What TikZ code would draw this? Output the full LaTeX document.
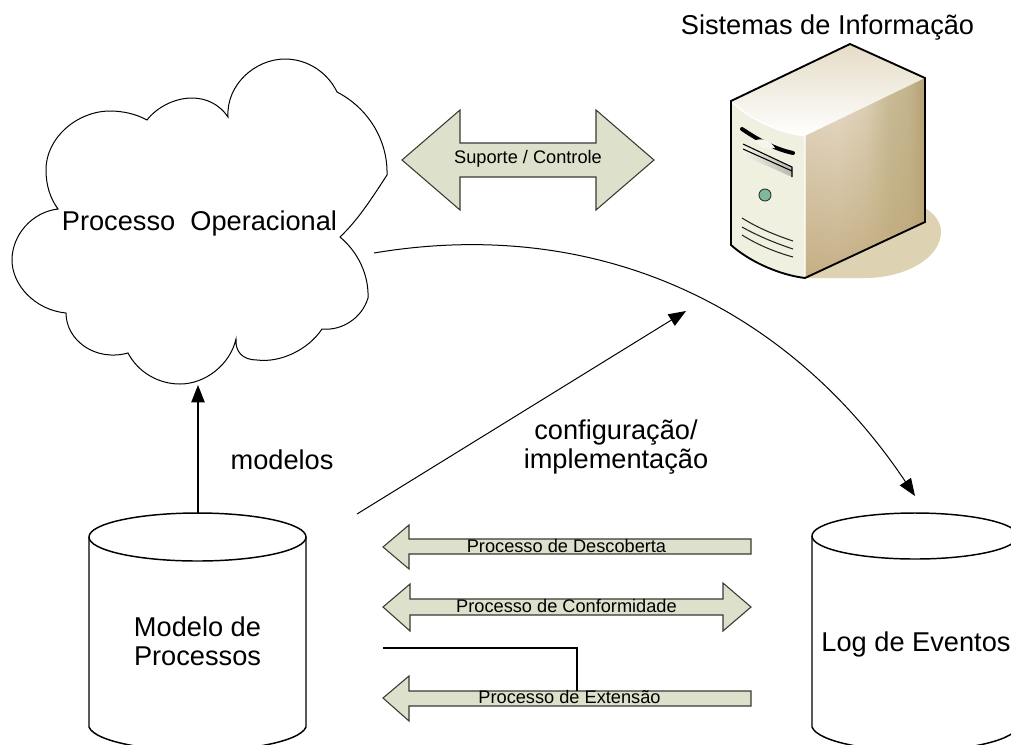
\documentclass[tikz,border=0pt]{standalone}
\usepackage{fontspec}
\setmainfont{Liberation Sans}
\usetikzlibrary{arrows.meta,fadings}
\definecolor{arrowfill}{HTML}{DDE0CA}
\definecolor{arrowedge}{HTML}{3A3A34}
\definecolor{srvshadow}{HTML}{DDD3B3}
\definecolor{srvtan}{HTML}{BFA878}
\definecolor{sa}{HTML}{E6DAC8}
\definecolor{sb}{HTML}{E9DDCD}
\definecolor{sc}{HTML}{DFD3BB}
\definecolor{sd}{HTML}{C9BC98}
\definecolor{se}{HTML}{C4B58F}
\definecolor{sf}{HTML}{B5A074}
\definecolor{srvtop}{HTML}{E5DCC6}
\definecolor{srvfront}{HTML}{EFF0E0}
\definecolor{srvlens}{HTML}{F6F6EC}
\definecolor{trayl}{HTML}{F2F2E8}
\definecolor{trayr}{HTML}{B8B8B0}
\definecolor{srvbtn}{HTML}{7DBA9D}
\pgfdeclarehorizontalshading{srvside}{100bp}{
 color(0bp)=(sa); color(25bp)=(sa); color(38bp)=(sb); color(50bp)=(sc); color(60bp)=(sd); color(68bp)=(se); color(75bp)=(sf); color(100bp)=(sf)}
\tikzfading[name=sidefade,top color=transparent!100,middle color=transparent!100,bottom color=transparent!15]
\tikzset{
  biglabel/.style={font=\fontsize{20.4}{21.5}\selectfont,align=center,inner sep=0pt},
  smalllabel/.style={font=\fontsize{13.65}{15}\selectfont,inner sep=0pt},
  blockarrow/.style={draw=arrowedge,fill=arrowfill,line width=0.8pt,line join=miter},
  cyl/.style={draw=black,line width=1.1pt,fill=white},
  thin connector/.style={draw=black,line width=0.75pt,-{Triangle[length=13pt,width=10pt]}},
  srvline/.style={draw=black!85,line width=0.8pt},
}
\begin{document}
\begin{tikzpicture}[x=0.75pt,y=-0.75pt]
\useasboundingbox (0,0) rectangle (1011,744);
\fill[white] (0,0) rectangle (1011,744);

% ---- cloud
\draw[black,line width=0.75pt,fill=white,line join=miter]
 (228,117) .. controls (226,85) and (255,59) .. (285,59)
 .. controls (308,59) and (328,73) .. (337,92)
 .. controls (368,108) and (388,140) .. (387,175)
 .. controls (372,198) and (358,220) .. (340,237)
 .. controls (358,252) and (369,275) .. (368,298)
 .. controls (362,318) and (342,331) .. (322,329)
 .. controls (308,350) and (280,363) .. (257,360)
 .. controls (243,360) and (235,352) .. (236,339)
 .. controls (230,365) and (205,384) .. (180,384)
 .. controls (158,384) and (138,372) .. (128,353)
 .. controls (95,362) and (66,340) .. (66,313)
 .. controls (35,310) and (12,285) .. (12,260)
 .. controls (12,235) and (32,212) .. (58,209)
 .. controls (50,198) and (46,185) .. (46,170)
 .. controls (46,137) and (78,111) .. (110,111)
 .. controls (123,111) and (136,114) .. (147,120)
 .. controls (157,107) and (175,98) .. (192,98)
 .. controls (207,98) and (220,105) .. (228,117) -- cycle;
\node[biglabel] (opproc) at (199.5,223) {Processo\ \ Operacional};
\coordinate (cloudbottom) at (198,385);
\coordinate (cloudright) at (374,253);

% ---- server
\node[biglabel] (sistitle) at (827.5,28) {Sistemas de Informação};
\fill[srvshadow] (920,205) .. controls (935,213) and (941,222) .. (941,232)
  .. controls (941,258) and (905,278) .. (865,278) -- (805,278) -- cycle;
\shade[top color=srvtop,bottom color=white]
  (731,101) -- (850,44) -- (925,78) -- (805,136) .. controls (780,133) and (750,120) .. (731,101) -- cycle;
\path[shading=srvside] (805,136) -- (925,78) -- (925,222) -- (805,278) -- cycle;
\fill[srvtan,path fading=sidefade] (805,136) -- (925,78) -- (925,222) -- (805,278) -- cycle;
\fill[srvfront] (731,101) .. controls (750,120) and (780,133) .. (805,136) -- (805,278)
   .. controls (780,275) and (750,262) .. (731,245) -- cycle;
\draw[white,line width=1pt] (731,101) .. controls (750,120) and (780,133) .. (805,136) -- (805,278);
\draw[black,line width=1.4pt,line join=miter]
  (731,101) -- (850,44) -- (925,78) -- (925,222) -- (805,278)
  .. controls (780,275) and (750,262) .. (731,245) -- cycle;
% drive bar and tray
\draw[black,line width=3pt,line cap=round] (742,129) .. controls (760,141) and (775,149) .. (793,153);
\fill[srvlens] (755,141) .. controls (760,137) and (770,140) .. (775,148) .. controls (768,150) and (760,148) .. (755,141) -- cycle;
\shade[left color=trayl,right color=trayr] (743,144) -- (792,167) -- (792,177) -- (743,155) -- cycle;
\draw[black,line width=0.8pt] (743,144) -- (792,167) -- (792,177);
\draw[black,line width=0.8pt] (743,149) -- (792,171);
% button
\draw[black!80,line width=0.7pt,fill=srvbtn] (765,195) circle [radius=6];
% vents
\draw[srvline] (742,218) .. controls (758,228) and (775,235) .. (793,241);
\draw[srvline] (742,227) .. controls (758,236) and (775,243) .. (793,249);
\draw[srvline] (742,235) .. controls (758,245) and (775,252) .. (793,257);

% ---- suporte / controle
\draw[blockarrow] (402,160) -- (460,110) -- (460,143) -- (596,143) -- (596,110) -- (654,160)
  -- (596,210) -- (596,177) -- (460,177) -- (460,210) -- cycle;
\node[smalllabel] (suporte) at (528,159) {Suporte / Controle};

% ---- cylinders
\begin{scope}
\clip (0,0) rectangle (1011,744);
\draw[cyl] (89,537) -- (89,727) .. controls (95,742) and (150,751) .. (197.5,751)
  .. controls (245,751) and (300,742) .. (306,727) -- (306,537);
\draw[cyl] (197.5,537) ellipse [x radius=108.5,y radius=24];
\draw[cyl] (812,536) -- (812,727) .. controls (818,742) and (870,751) .. (915,751)
  .. controls (960,751) and (1012,742) .. (1018,727) -- (1018,536);
\draw[cyl] (915,536) ellipse [x radius=103,y radius=23];
\end{scope}
\node[biglabel] (modelo) at (197.5,641.5) {Modelo de\\Processos};
\node[biglabel] (logev) at (916,644) {Log de Eventos};
\coordinate (modeltop) at (198,514);
\coordinate (modelright) at (357,514);
\coordinate (logtop) at (915,496);
\coordinate (infosys) at (686,311);

% ---- connectors
\draw[thin connector,line width=1.1pt] (modeltop) -- (cloudbottom);
\draw[thin connector] (modelright) -- (infosys);
\draw[thin connector] (cloudright) .. controls (600,215) and (790,309) .. (logtop);
\node[biglabel] (modelos) at (282,460) {modelos};
\node[biglabel] (config) at (616,447) {configuração/\\implementação};

% ---- process arrows
\draw[blockarrow] (383,547) -- (409,525) -- (409,539) -- (751,539) -- (751,554) -- (409,554) -- (409,569) -- cycle;
\node[smalllabel] (desc) at (566.5,546) {Processo de Descoberta};
\draw[blockarrow] (383,607) -- (410,584) -- (410,599) -- (723,599) -- (723,583) -- (751,607) -- (723,631)
  -- (723,615) -- (410,615) -- (410,631) -- cycle;
\node[smalllabel] (conf) at (566.5,606) {Processo de Conformidade};
\coordinate (extstart) at (383,648);
\coordinate (extend) at (577,691);
\draw[blockarrow] (383,698) -- (409,676) -- (409,691) -- (751,691) -- (751,706) -- (409,706) -- (409,721) -- cycle;
\draw[black,line width=2.1pt,line join=miter] (extstart) -| (extend);
\node[smalllabel] (ext) at (569.5,697) {Processo de Extensão};
\end{tikzpicture}
\end{document}
